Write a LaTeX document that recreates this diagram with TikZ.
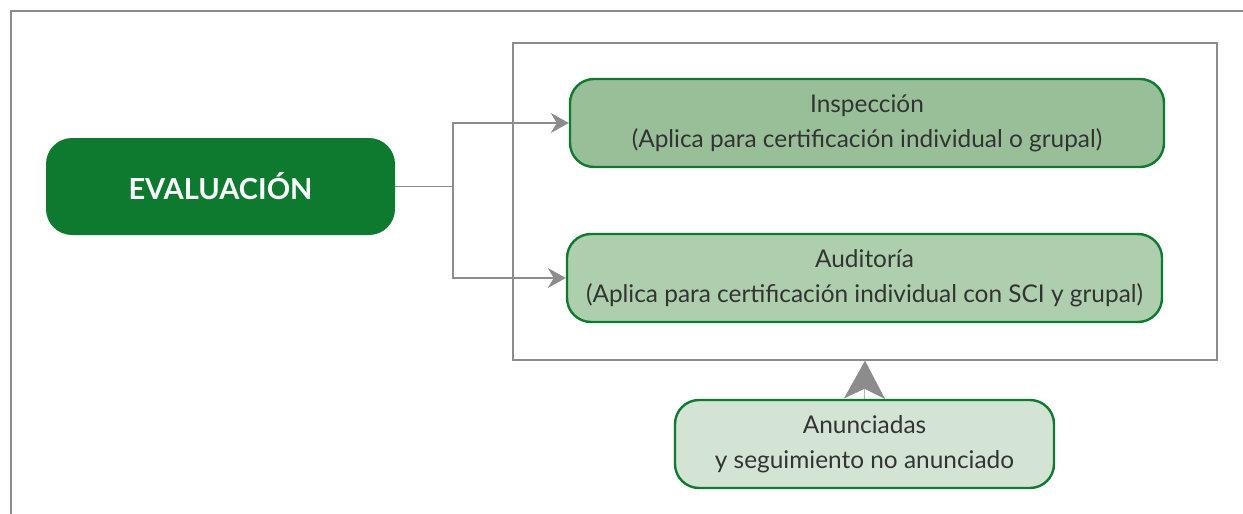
\documentclass[tikz,border=0pt]{standalone}
\usepackage{fontspec}
\setmainfont{Lato}
\usetikzlibrary{shapes,arrows.meta,positioning,calc}
\usepackage{xcolor}
\definecolor{verdeosc}{HTML}{0E7A30}
\definecolor{verdemed}{HTML}{99BF99}
\definecolor{verdeclaro}{HTML}{AECFAE}
\definecolor{verdepal}{HTML}{D4E4D4}
\definecolor{gris}{HTML}{8C8C8C}
\definecolor{texto}{HTML}{333333}

\tikzset{
  caja/.style={draw=verdeosc, line width=2.4pt, rounded corners=24pt,
    minimum height=88pt, align=center, text=texto,
    font=\fontsize{24.4}{35}\selectfont},
  flecha/.style={gris, line width=1.6pt, -{Stealth[length=18pt,width=20pt,inset=6pt]}},
}

\begin{document}
\begin{tikzpicture}[x=1pt,y=-1pt]
  \useasboundingbox (0,0) rectangle (1243,514);
  % marco exterior
  \draw[gris, line width=2pt] (1243,10.5) -- (10.5,10.5) -- (10.5,514);

  % marco de las evaluaciones
  \node[draw=gris, line width=1.4pt, minimum width=704pt, minimum height=317pt,
        inner sep=0pt] (marco) at (865,201.5) {};

  \node[fill=verdeosc, rounded corners=26pt, minimum width=349pt, minimum height=97pt,
        text=white, font=\fontsize{29}{32}\selectfont\bfseries] (eval) at (220.5,186.5) {EVALUACIÓN};

  \node[caja, fill=verdemed, minimum width=594pt] (insp) at (867,123)
    {Inspección\\(Aplica para certificación individual o grupal)};
  \node[caja, fill=verdeclaro, minimum width=595pt] (audi) at (864.5,278)
    {Auditoría\\(Aplica para certificación individual con SCI y grupal)};
  \node[caja, fill=verdepal, minimum width=379pt] (anun) at (864.5,444)
    {Anunciadas\\y seguimiento no anunciado};

  \coordinate (rama) at (453,186.5);
  \draw[gris, line width=1.6pt] (eval.east) -- (rama);
  \draw[flecha] (rama) |- (insp.west);
  \draw[flecha] (rama) |- (audi.west);

  \draw[gris, line width=0.5pt, -{Stealth[length=38pt,width=41pt,inset=10pt]}]
    (anun.north) -- (marco.south);
\end{tikzpicture}
\end{document}
